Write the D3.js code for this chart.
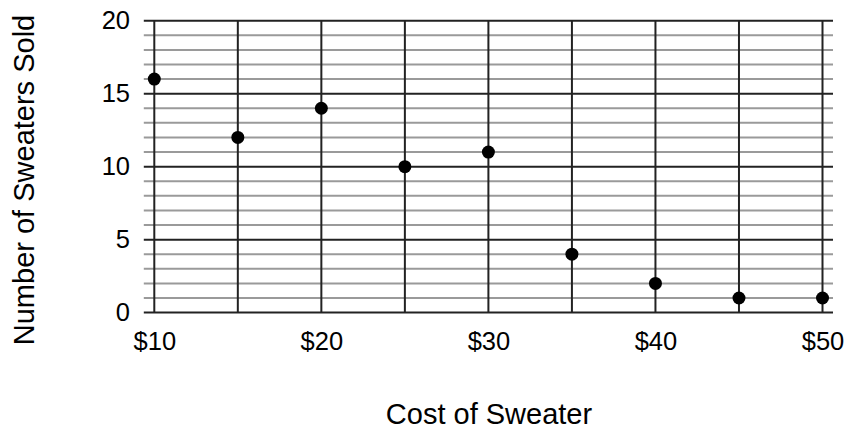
<!DOCTYPE html>
<html>
<head>
<meta charset="utf-8">
<script src="https://cdn.jsdelivr.net/npm/d3@7"></script>
<style>
  html, body { margin: 0; padding: 0; background: #fff; }
  svg { display: block; }
  text { font-family: "Liberation Sans", Arial, sans-serif; fill: #000; }
</style>
</head>
<body>
<svg id="chart" width="847" height="430"></svg>
<script>
// ---- data ----
const costs = [10, 15, 20, 25, 30, 35, 40, 45, 50];
const sold = [16, 12, 14, 10, 11, 4, 2, 1, 1];
const xTickValues = [10, 20, 30, 40, 50];
const yTickValues = [0, 5, 10, 15, 20];
const yMinorValues = d3.range(0, 21, 1);
const xTitle = "Cost of Sweater";
const yTitle = "Number of Sweaters Sold";

(function () {
// ---- layout ----
const svg = d3.select("#chart");
const pLeft = 154.3, pRight = 822.5, pTop = 20.7, pBottom = 312.6;
const ext = 10.5;

const x = d3.scaleLinear().domain([10, 50]).range([pLeft, pRight]);
const y = d3.scaleLinear().domain([0, 20]).range([pBottom, pTop]);

// minor horizontal grid
svg.append("g").selectAll("line")
  .data(yMinorValues.filter(v => v % 5 !== 0))
  .join("line")
  .attr("x1", pLeft - ext).attr("x2", pRight + ext)
  .attr("y1", d => y(d)).attr("y2", d => y(d))
  .attr("stroke", "#9a9a9a").attr("stroke-width", 2);

// vertical grid
svg.append("g").selectAll("line")
  .data(costs)
  .join("line")
  .attr("x1", d => x(d)).attr("x2", d => x(d))
  .attr("y1", pTop).attr("y2", pBottom)
  .attr("stroke", "#222").attr("stroke-width", 2);

// major horizontal grid
svg.append("g").selectAll("line")
  .data(yTickValues)
  .join("line")
  .attr("x1", pLeft - ext).attr("x2", pRight + ext)
  .attr("y1", d => y(d)).attr("y2", d => y(d))
  .attr("stroke", "#222").attr("stroke-width", 2);

// y tick labels via axis
const yAxis = d3.axisLeft(y).tickValues(yTickValues).tickSize(0).tickPadding(0);
const yg = svg.append("g").attr("transform", `translate(${130},0)`).call(yAxis);
yg.select(".domain").remove();
yg.selectAll("text").attr("font-size", 25.5).attr("font-family", "Liberation Sans, Arial, sans-serif").attr("fill", "#000");

// x tick labels via axis
const xAxis = d3.axisBottom(x).tickValues(xTickValues).tickSize(0).tickPadding(0)
  .tickFormat(d => "$" + d);
const xg = svg.append("g").attr("transform", `translate(0,${332})`).call(xAxis);
xg.select(".domain").remove();
xg.selectAll("text").attr("font-size", 25.5).attr("font-family", "Liberation Sans, Arial, sans-serif").attr("fill", "#000");

// points
svg.append("g").selectAll("circle")
  .data(costs.map((c, i) => ({c, s: sold[i]})))
  .join("circle")
  .attr("cx", d => x(d.c)).attr("cy", d => y(d.s))
  .attr("r", 6.5).attr("fill", "#000");

// titles
svg.append("text")
  .attr("x", 489).attr("y", 423.5)
  .attr("text-anchor", "middle").attr("font-size", 29)
  .text(xTitle);

svg.append("text")
  .attr("transform", `translate(34,${180}) rotate(-90)`)
  .attr("text-anchor", "middle").attr("font-size", 29)
  .text(yTitle);
})();
</script>
</body>
</html>
